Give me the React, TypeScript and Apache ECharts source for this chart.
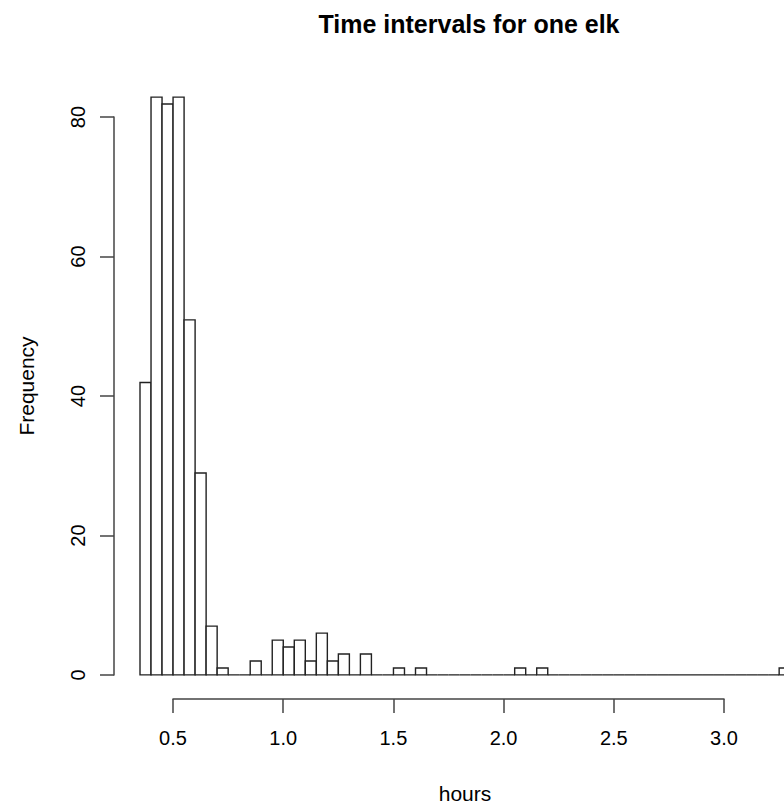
import React, { useEffect, useRef } from "react";
import * as echarts from "echarts";

// Histogram bins (hours), width 0.05
const binStarts = [
  0.35, 0.40, 0.45, 0.50, 0.55, 0.60, 0.65, 0.70, 0.75, 0.80,
  0.85, 0.90, 0.95, 1.00, 1.05, 1.10, 1.15, 1.20, 1.25, 1.30,
  1.35, 1.40, 1.45, 1.50, 1.55, 1.60, 1.65, 1.70, 1.75, 1.80,
  1.85, 1.90, 1.95, 2.00, 2.05, 2.10, 2.15, 2.20, 2.25, 2.30,
  2.35, 2.40, 2.45, 2.50, 2.55, 2.60, 2.65, 2.70, 2.75, 2.80,
  2.85, 2.90, 2.95, 3.00, 3.05, 3.10, 3.15, 3.20, 3.25,
];
const binWidth = 0.05;
const counts = [
  42, 83, 82, 83, 51, 29, 7, 1, 0, 0,
  2, 0, 5, 4, 5, 2, 6, 2, 3, 0,
  3, 0, 0, 1, 0, 1, 0, 0, 0, 0,
  0, 0, 0, 0, 1, 0, 1, 0, 0, 0,
  0, 0, 0, 0, 0, 0, 0, 0, 0, 0,
  0, 0, 0, 0, 0, 0, 0, 0, 1,
];
const xTicks = [0.5, 1.0, 1.5, 2.0, 2.5, 3.0];
const yTicks = [0, 20, 40, 60, 80];

const titleText = "Time intervals for one elk";
const xLabel = "hours";
const yLabel = "Frequency";

const FONT = "'Liberation Sans', Arial, Helvetica, sans-serif";

export default function App() {
  const ref = useRef<HTMLDivElement>(null);
  useEffect(() => {
    if (!ref.current) return;
    const chart = echarts.init(ref.current, null, { renderer: "svg" });
    const data = binStarts.map((s, i) => [s, s + binWidth, counts[i]]);
    chart.setOption({
      animation: false,
      backgroundColor: "#ffffff",
      textStyle: { fontFamily: FONT },
      title: {
        text: titleText,
        left: 464,
        top: 6,
        textAlign: "center",
        textStyle: { fontFamily: FONT, fontSize: 25, fontWeight: "bold", color: "#000" },
      },
      graphic: [
        {
          type: "text",
          x: 465,
          y: 793,
          style: { text: xLabel, font: `21px ${FONT}`, fill: "#000", textAlign: "center", textVerticalAlign: "middle" },
        },
        {
          type: "text",
          x: 26,
          y: 386,
          rotation: Math.PI / 2,
          style: { text: yLabel, font: `21px ${FONT}`, fill: "#000", textAlign: "center", textVerticalAlign: "middle" },
        },
      ],
      grid: [
        { left: 114, top: 74, width: 670, height: 624 },
        { left: 114, top: 117, width: 10, height: 558 },
        { left: 173, top: 600, width: 551, height: 99 },
      ],
      xAxis: [
        { gridIndex: 0, type: "value", min: 0.232, max: 3.272, show: false },
        { gridIndex: 1, type: "value", min: 0, max: 1, show: false },
        {
          gridIndex: 2,
          type: "value",
          min: 0.5,
          max: 3.0,
          interval: 0.5,
          position: "bottom",
          axisLine: { show: true, lineStyle: { color: "#444", width: 1.5 } },
          axisTick: { show: true, length: 14, lineStyle: { color: "#444", width: 1.5 } },
          axisLabel: {
            color: "#000",
            fontSize: 20,
            fontFamily: FONT,
            margin: 29,
            formatter: (v: number) => (xTicks.includes(v) ? v.toFixed(1) : ""),
          },
          splitLine: { show: false },
        },
      ],
      yAxis: [
        { gridIndex: 0, type: "value", min: -3.32, max: 86.32, show: false },
        {
          gridIndex: 1,
          type: "value",
          min: 0,
          max: 80,
          interval: 20,
          position: "left",
          axisLine: { show: true, lineStyle: { color: "#444", width: 1.5 } },
          axisTick: { show: true, length: 14, lineStyle: { color: "#444", width: 1.5 } },
          axisLabel: {
            color: "#000",
            fontSize: 20,
            fontFamily: FONT,
            rotate: 90,
            margin: 26,
            formatter: (v: number) => (yTicks.includes(v) ? String(v) : ""),
          },
          splitLine: { show: false },
        },
        { gridIndex: 2, type: "value", min: 0, max: 1, show: false },
      ],
      series: [
        {
          type: "custom",
          xAxisIndex: 0,
          yAxisIndex: 0,
          clip: true,
          data,
          encode: { x: [0, 1], y: 2 },
          renderItem: (params: any, api: any) => {
            const x0 = api.value(0);
            const x1 = api.value(1);
            const c = api.value(2);
            const p0 = api.coord([x0, c]);
            const p1 = api.coord([x1, 0]);
            return {
              type: "rect",
              shape: { x: p0[0], y: p0[1], width: p1[0] - p0[0], height: p1[1] - p0[1] },
              style: { fill: "#ffffff", stroke: "#222", lineWidth: 1.4 },
            };
          },
        },
      ],
    });
    return () => chart.dispose();
  }, []);
  return (
    <div
      ref={ref}
      style={{ position: "fixed", left: 0, top: 0, width: 784, height: 803 }}
    />
  );
}
